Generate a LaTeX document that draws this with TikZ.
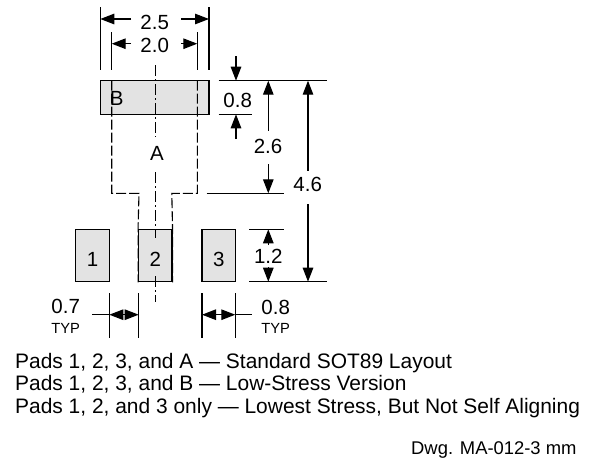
\documentclass[tikz,border=0pt]{standalone}
\usepackage{fontspec}
\setmainfont{Liberation Sans}
\usepackage{xcolor}
\usepackage{tikz}
\usetikzlibrary{arrows.meta, positioning, calc}

\begin{document}
\begin{tikzpicture}[
        x=1pt, y=-1pt,
        pad/.style={rectangle, draw=black, line width=1.2pt, fill=black!11, inner sep=0pt},
        padnum/.style={inner sep=0pt, yshift=-3.5pt, font=\fontsize{20.5}{24}\selectfont},
        dimline/.style={line width=1.2pt},
        dimarrow/.style={line width=1.2pt, -{Triangle[length=14pt, width=10.5pt]}},
        outline/.style={line width=1.1pt, dash pattern=on 10pt off 3pt},
        centerline/.style={line width=0.8pt, dash pattern=on 11pt off 3pt on 2pt off 3pt},
        dimtext/.style={inner sep=0pt, font=\fontsize{20.5}{24}\selectfont},
        typtext/.style={inner sep=0pt, font=\fontsize{14.7}{17}\selectfont},
        note/.style={inner sep=0pt, anchor=base west, font=\fontsize{20.95}{24}\selectfont}
    ]
    \useasboundingbox (0,0) rectangle (592,459);

    % Pads
    \node[pad, minimum width=108.7pt, minimum height=33.6pt] (padB) at (154.7,97.5) {};
    \node[pad, minimum width=33.6pt, minimum height=52.4pt] (pad1) at (92.5,255.5) {};
    \node[pad, minimum width=33.3pt, minimum height=52.4pt] (pad2) at (155.3,255.5) {};
    \node[pad, minimum width=33.3pt, minimum height=52.4pt] (pad3) at (218.7,255.5) {};
    \node[padnum] (num1) at (pad1) {1};
    \node[padnum] (num2) at (pad2) {2};
    \node[padnum] (num3) at (pad3) {3};

    % Pad A outline
    \node[dimtext] (labelA) at (157,153) {A};
    \node[dimtext] (labelB) at (116.7,98) {B};
    \coordinate (aTL) at (111.7,80.7);
    \coordinate (aTR) at (197.3,80.7);
    \draw[outline] (aTL) -- (111.7,193.3) -- (139,193.3) -- (pad2.north west) -- (pad2.south west);
    \draw[outline] (aTR) -- (197.3,193.3) -- (171.8,193.3) -- (pad2.north east) -- (pad2.south east);

    % Center line
    \coordinate (cTop) at (155,65);
    \coordinate (cBot) at (155,301.7);
    \draw[centerline] (cTop) -- (155,137);
    \draw[centerline] (155,172) -- (155,238);
    \draw[centerline] (155,276) -- (cBot);

    % Top widths
    \coordinate (w1) at (100.3,7);
    \coordinate (w2) at (209,7);
    \coordinate (n1) at (111.7,32);
    \coordinate (n2) at (197.3,32);
    \node[dimtext] (dimW) at (154.7,22.7) {2.5};
    \node[dimtext] (dimN) at (154.7,45.7) {2.0};
    \draw[dimline] (w1) -- (100.3,70);
    \draw[dimline] (w2) -- (209,70);
    \draw[dimline] (n1) -- (111.7,70);
    \draw[dimline] (n2) -- (197.3,70);
    \draw[dimarrow] (131,19) -- (100.3,19);
    \draw[dimarrow] (181,19) -- (209,19);
    \draw[dimarrow] (131,43.7) -- (111.7,43.7);
    \draw[dimarrow] (181,43.7) -- (197.3,43.7);

    % Right side dimensions
    \coordinate (topL) at (218.7,80.7);
    \coordinate (topR) at (326.7,80.7);
    \coordinate (midL) at (218.7,114.3);
    \coordinate (midR) at (252,114.3);
    \coordinate (lowL) at (206.7,193.3);
    \coordinate (lowR) at (284,193.3);
    \coordinate (p2L) at (249,229.3);
    \coordinate (p2R) at (284,229.3);
    \coordinate (baseL) at (249,281.7);
    \coordinate (baseR) at (326.7,281.7);
    \draw[dimline] (topL) -- (topR);
    \draw[dimline] (midL) -- (midR);
    \draw[dimline] (lowL) -- (lowR);
    \draw[dimline] (p2L) -- (p2R);
    \draw[dimline] (baseL) -- (baseR);

    \node[dimtext] (dim08) at (237.7,100) {0.8};
    \draw[dimarrow] (236,56) -- (236,80.7);
    \draw[dimarrow] (236,139) -- (236,114.3);

    \node[dimtext] (dim26) at (268,146) {2.6};
    \draw[dimarrow] (268.3,130.7) -- (268.3,80.7);
    \draw[dimarrow] (268.3,164) -- (268.3,193.3);

    \node[dimtext] (dim46) at (307.7,184.3) {4.6};
    \draw[dimarrow] (308,170.7) -- (308,80.7);
    \draw[dimarrow] (308,204) -- (308,281.7);

    \node[dimtext] (dim12) at (268.3,256) {1.2};
    \draw[dimarrow] (268.3,245) -- (268.3,229.3);
    \draw[dimarrow] (268.3,267) -- (268.3,281.7);

    % Bottom gaps
    \coordinate (g1) at (109.3,293);
    \coordinate (g2) at (138.7,293);
    \coordinate (g3) at (202,293);
    \coordinate (g4) at (235.3,293);
    \draw[dimline] (g1) -- (109.3,337.7);
    \draw[dimline] (g2) -- (138.7,337.7);
    \draw[dimline] (g3) -- (202,337.7);
    \draw[dimline] (g4) -- (235.3,337.7);

    \coordinate (gm1) at (124,314.7);
    \coordinate (gm2) at (218.7,314.7);
    \draw[dimline] (92,314.7) -- (109.3,314.7);
    \draw[dimarrow] (gm1) -- (109.3,314.7);
    \draw[dimarrow] (gm1) -- (138.7,314.7);
    \draw[dimarrow] (gm2) -- (202,314.7);
    \draw[dimarrow] (gm2) -- (235.3,314.7);
    \draw[dimline] (235.3,314.7) -- (251.7,314.7);

    \node[dimtext] (dim07) at (65.7,306.7) {0.7};
    \node[typtext] (typ07) at (65.7,328.3) {TYP};
    \node[dimtext] (dim08b) at (275.7,307.3) {0.8};
    \node[typtext] (typ08) at (275.7,328.3) {TYP};

    % Notes
    \node[note] (note1) at (15,368) {Pads 1, 2, 3, and A — Standard SOT89 Layout};
    \node[note] (note2) at (15,390.5) {Pads 1, 2, 3, and B — Low-Stress Version};
    \node[note] (note3) at (15,413.5) {Pads 1, 2, and 3 only — Lowest Stress, But Not Self Aligning};
    \node[inner sep=0pt, anchor=base east, font=\fontsize{18.4}{21}\selectfont] (dwg) at (576.7,454) {Dwg. MA-012-3 mm};

\end{tikzpicture}
\end{document}
